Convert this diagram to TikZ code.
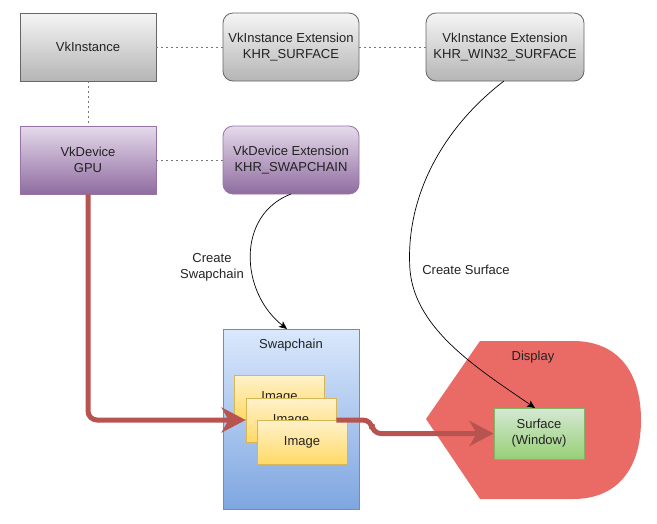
\documentclass[tikz,border=0pt]{standalone}
\usepackage{fontspec}
\setmainfont{Liberation Sans}
\usetikzlibrary{arrows.meta}
\definecolor{txt}{HTML}{222222}
\definecolor{grayT}{HTML}{F5F5F5}
\definecolor{grayBot}{HTML}{B5B5B5}
\definecolor{grayD}{HTML}{666666}
\definecolor{purT}{HTML}{E6DAEC}
\definecolor{purBot}{HTML}{8E6C9F}
\definecolor{purD}{HTML}{9673A6}
\definecolor{bluT}{HTML}{DAE8FC}
\definecolor{bluBot}{HTML}{7EA6E0}
\definecolor{bluD}{HTML}{6C8EBF}
\definecolor{yelT}{HTML}{FFF2CC}
\definecolor{yelBot}{HTML}{FFD966}
\definecolor{yelD}{HTML}{D6B656}
\definecolor{grnT}{HTML}{D5E8D4}
\definecolor{grnBot}{HTML}{97D077}
\definecolor{grnD}{HTML}{82B366}
\definecolor{dispRed}{HTML}{EA6B66}
\definecolor{arrRed}{HTML}{B85450}
\definecolor{dotGray}{HTML}{777777}
\begin{document}
\begin{tikzpicture}[x=1pt,y=-1pt,
  font=\fontsize{13}{16}\selectfont,
  box/.style={draw, minimum width=136pt, minimum height=68pt, align=center, inner sep=0pt, text=txt, line width=0.8pt},
  graybox/.style={box, draw=grayD, top color=grayT, bottom color=grayBot},
  purbox/.style={box, draw=purD, top color=purT, bottom color=purBot},
  imgbox/.style={draw=yelD, top color=yelT, bottom color=yelBot, minimum width=90pt, minimum height=44pt, inner sep=0pt, text=txt, line width=0.8pt},
  dotline/.style={draw=dotGray, line width=0.8pt, dash pattern=on 2pt off 3pt},
  redarrow/.style={draw=arrRed, line width=5pt, rounded corners=9pt, -{Stealth[length=24pt,width=25pt,inset=7pt]}},
  thinarrow/.style={draw=black, line width=0.7pt, -{Stealth[length=8pt,width=7pt,inset=2pt]}},
  lbl/.style={align=center, text=txt, inner sep=0pt}
]
\useasboundingbox (0,0) rectangle (657,523);

% top row
\node[graybox] (inst) at (88,47) {VkInstance};
\node[graybox, rounded corners=10pt] (ext1) at (291,47) {VkInstance Extension\\KHR\_SURFACE};
\node[graybox, rounded corners=10pt, minimum width=158pt] (ext2) at (505,47) {VkInstance Extension\\KHR\_WIN32\_SURFACE};

% second row
\node[purbox] (dev) at (88,160) {VkDevice\\GPU};
\node[purbox, rounded corners=10pt] (devext) at (291,160) {VkDevice Extension\\KHR\_SWAPCHAIN};

% dotted links
\draw[dotline] (inst.east) -- (ext1.west);
\draw[dotline] (ext1.east) -- (ext2.west);
\draw[dotline] (inst.south) -- (dev.north);
\draw[dotline] (dev.east) -- (devext.west);

% swapchain container
\node[draw=bluD, top color=bluT, bottom color=bluBot, minimum width=136pt, minimum height=180pt, inner sep=0pt, line width=0.8pt] (swap) at (291,419) {};
\node[lbl] (swaplbl) at (291,345) {Swapchain};
\node[imgbox] (img1) at (279.5,397) {Image};
\node[imgbox] (img2) at (291,420) {Image};
\node[imgbox] (img3) at (302,442) {Image};

% display shape
\fill[dispRed] (426,419) -- (480,341) -- (573,341)
  .. controls (618,341) and (641,372) .. (641,420)
  .. controls (641,468) and (618,499) .. (573,499)
  -- (480,499) -- cycle;
\node[lbl] (displbl) at (533,357) {Display};
\node[draw=grnD, top color=grnT, bottom color=grnBot, minimum width=90pt, minimum height=51pt, inner sep=0pt, align=center, text=txt, line width=0.8pt] (surf) at (539,433.5) {Surface\\(Window)};

% thick red arrows
\draw[redarrow] (dev.south) -- (88,420) -- (img2.west);
\draw[redarrow] (img2.east) -- (372,420) -- (372,433.5) -- (surf.west);

% curved arrows
\coordinate (swapIn) at (287,329);
\coordinate (surfIn) at (535,408);
\draw[thinarrow] (291,194) .. controls (236,215) and (240,292) .. (swapIn);
\draw[thinarrow] (504,81) .. controls (440,130) and (405,200) .. (410,270)
   .. controls (415,330) and (480,370) .. (surfIn);
\node[lbl] (csw) at (212,267) {Create\\Swapchain};
\node[lbl] (csu) at (466,270) {Create Surface};
\end{tikzpicture}
\end{document}
